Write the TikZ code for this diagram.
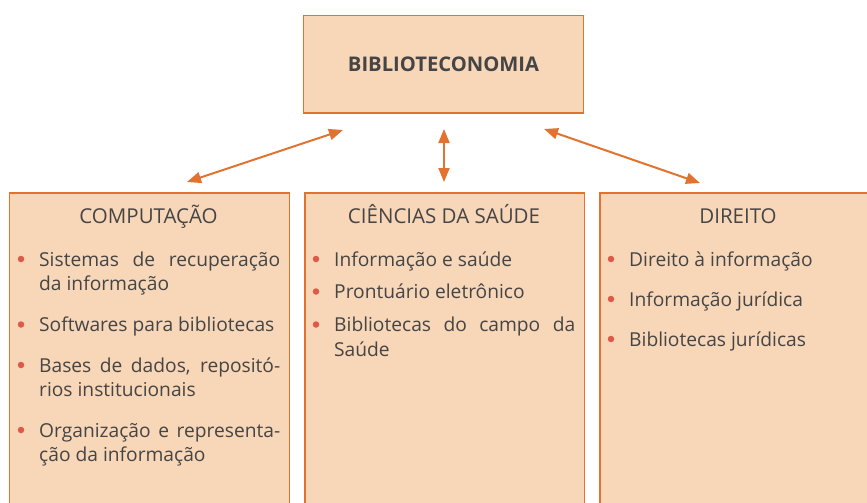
\documentclass[tikz,border=0pt]{standalone}
\usepackage{fontspec}
\setmainfont{Open Sans}
\usepackage{tikz}
\usetikzlibrary{arrows.meta}
\definecolor{boxfill}{HTML}{F8D6B8}
\definecolor{boxline}{HTML}{E2722F}
\definecolor{txtgray}{HTML}{454545}
\definecolor{bulletred}{HTML}{DE5A48}
\tikzstyle{areabox}=[draw=boxline,fill=boxfill,line width=1.6pt,inner sep=0pt]
\tikzstyle{heading}=[text=txtgray,font=\fontsize{20.5}{24}\selectfont,anchor=base,inner sep=0pt]
\tikzstyle{item}=[text=txtgray,font=\fontsize{19.2}{24.5}\selectfont,text width=241pt,align=justify,anchor=base west,inner sep=0pt]
\tikzstyle{bullet}=[circle,fill=bulletred,minimum size=6.5pt,inner sep=0pt]
\tikzstyle{link}=[draw=boxline,line width=2pt,{Triangle[length=14pt,width=11pt]}-{Triangle[length=14pt,width=11pt]}]

\begin{document}
\begin{tikzpicture}[x=1pt,y=-1pt]
        \useasboundingbox (0,0) rectangle (867,503);
        % boxes
        \node[areabox,minimum width=280pt,minimum height=97.5pt,text=txtgray,font=\fontsize{20.2}{24}\selectfont\bfseries] (biblio) at (443.5,64.25) {BIBLIOTECONOMIA};
        \node[areabox,anchor=north west,minimum width=280pt,minimum height=340pt] (comp) at (8.5,192) {};
        \node[areabox,anchor=north west,minimum width=279.5pt,minimum height=340pt] (saude) at (304,192) {};
        \node[areabox,anchor=north west,minimum width=300pt,minimum height=340pt] (direito) at (599,192) {};
        % headings
        \node[heading] (compT) at (148.5,223) {COMPUTAÇÃO};
        \node[heading] (saudeT) at (444,223) {CIÊNCIAS DA SAÚDE};
        \node[heading] (direitoT) at (738,223) {DIREITO};
        % computacao
        \node[item] (c1) at (39,266) {Sistemas de recuperação\linebreak da informação};
        \node[item] (c2) at (39,331.5) {Softwares para bibliotecas};
        \node[item] (c3) at (39,372) {Bases de dados, repositó-\linebreak rios institucionais};
        \node[item] (c4) at (39,437) {Organização e representa-\linebreak ção da informação};
        % ciencias da saude
        \node[item] (s1) at (334,266) {Informação e saúde};
        \node[item] (s2) at (334,298.5) {Prontuário eletrônico};
        \node[item] (s3) at (334,331.5) {Bibliotecas do campo da\linebreak Saúde};
        % direito
        \node[item] (d1) at (629,266) {Direito à informação};
        \node[item] (d2) at (629,306) {Informação jurídica};
        \node[item] (d3) at (629,346) {Bibliotecas jurídicas};
        % bullets
        \foreach \n in {c1,c2,c3,c4,s1,s2,s3,d1,d2,d3}
          \node[bullet] (\n b) at ([xshift=-18pt,yshift=7pt]\n.base west) {};
        % arrows
        \coordinate (lt) at (343,130);
        \coordinate (lb) at (187,182);
        \coordinate (mt) at (444,129);
        \coordinate (mb) at (444,182);
        \coordinate (rt) at (544,129);
        \coordinate (rb) at (700,183);
        \draw[link] (lt) -- (lb);
        \draw[link] (mt) -- (mb);
        \draw[link] (rt) -- (rb);
\end{tikzpicture}
\end{document}
